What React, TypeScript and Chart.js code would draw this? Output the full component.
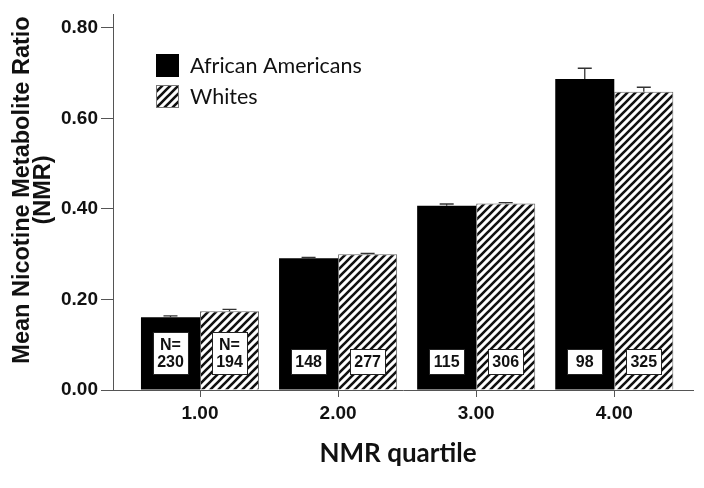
import React, { useEffect, useRef } from "react";
import { Chart, registerables } from "chart.js";

Chart.register(...registerables);

const quartiles = [1, 2, 3, 4];
const quartileLabels = ["1.00", "2.00", "3.00", "4.00"];
const africanAmericans = [0.161, 0.291, 0.407, 0.687];
const whites = [0.174, 0.3, 0.412, 0.659];
const errAfricanAmericans = [0.003, 0.002, 0.004, 0.024];
const errWhites = [0.004, 0.002, 0.002, 0.01];
const nAfricanAmericans = [230, 148, 115, 98];
const nWhites = [194, 277, 306, 325];
const yTicks = [0, 0.2, 0.4, 0.6, 0.8];
const seriesNames = ["African Americans", "Whites"];
const yTitle = ["Mean Nicotine Metabolite Ratio", "(NMR)"];
const xTitle = "NMR quartile";

function makeHatch(): CanvasPattern | string {
  const c = document.createElement("canvas");
  const s = 8;
  c.width = s;
  c.height = s;
  const g = c.getContext("2d");
  if (!g) return "#888";
  g.fillStyle = "#fff";
  g.fillRect(0, 0, s, s);
  g.strokeStyle = "#111";
  g.lineWidth = 2.6;
  g.beginPath();
  g.moveTo(-2, s + 2);
  g.lineTo(s + 2, -2);
  g.moveTo(-2, 2);
  g.lineTo(2, -2);
  g.moveTo(s - 2, s + 2);
  g.lineTo(s + 2, s - 2);
  g.stroke();
  const p = g.createPattern(c, "repeat");
  return p || "#888";
}

export default function App() {
  const ref = useRef<HTMLCanvasElement | null>(null);

  useEffect(() => {
    if (!ref.current) return;
    const hatch = makeHatch();
    const errs = [errAfricanAmericans, errWhites];
    const ns = [nAfricanAmericans, nWhites];

    const overlay = {
      id: "overlay",
      afterDatasetsDraw(chart: any) {
        const ctx = chart.ctx as CanvasRenderingContext2D;
        const ys = chart.scales.y;
        // error bars
        ctx.save();
        ctx.strokeStyle = "#333";
        ctx.lineWidth = 1.3;
        [0, 1].forEach((di) => {
          const meta = chart.getDatasetMeta(di);
          const vals = di === 0 ? africanAmericans : whites;
          meta.data.forEach((bar: any, i: number) => {
            const x = bar.x;
            const yTop = ys.getPixelForValue(vals[i] + errs[di][i]);
            const yBar = ys.getPixelForValue(vals[i]);
            ctx.beginPath();
            ctx.moveTo(x, yBar);
            ctx.lineTo(x, yTop);
            ctx.moveTo(x - 7, yTop);
            ctx.lineTo(x + 7, yTop);
            ctx.stroke();
          });
        });
        ctx.restore();

        // N labels
        ctx.save();
        ctx.font = "bold 16px 'Liberation Sans', Arial, sans-serif";
        ctx.textAlign = "center";
        ctx.textBaseline = "middle";
        const zero = ys.getPixelForValue(0);
        [0, 1].forEach((di) => {
          const meta = chart.getDatasetMeta(di);
          meta.data.forEach((bar: any, i: number) => {
            const lines = i === 0 ? ["N=", String(ns[di][i])] : [String(ns[di][i])];
            const h = 17 * lines.length + 8;
            const w = 35;
            const bottom = zero - 16;
            const top = bottom - h;
            ctx.fillStyle = "#fff";
            ctx.fillRect(bar.x - w / 2, top, w, h);
            ctx.strokeStyle = "#222";
            ctx.lineWidth = 1;
            ctx.strokeRect(Math.round(bar.x - w / 2) + 0.5, Math.round(top) + 0.5, w, h);
            ctx.fillStyle = "#111";
            lines.forEach((t, li) => {
              ctx.fillText(t, bar.x, top + 4 + 8.5 + li * 17 + 1);
            });
          });
        });
        ctx.restore();
      },
      afterDraw(chart: any) {
        const ctx = chart.ctx as CanvasRenderingContext2D;
        const ds = chart.data.datasets;
        // legend
        ctx.save();
        const boxes = [
          { y: 54, fill: ds[0].backgroundColor, border: "#000" },
          { y: 85, fill: ds[1].backgroundColor, border: "#777" },
        ];
        boxes.forEach((b, i) => {
          ctx.fillStyle = b.fill as any;
          ctx.fillRect(156, b.y, 23, 23);
          ctx.strokeStyle = b.border;
          ctx.lineWidth = 1;
          ctx.strokeRect(156.5, b.y + 0.5, 22, 22);
          ctx.fillStyle = "#111";
          ctx.font = "21.5px Lato, 'Open Sans', sans-serif";
          ctx.textAlign = "left";
          ctx.textBaseline = "alphabetic";
          ctx.fillText(seriesNames[i], 190, b.y + 19);
        });
        ctx.restore();

        // y title
        ctx.save();
        ctx.fillStyle = "#111";
        ctx.font = "bold 23.5px 'Liberation Sans', Arial, sans-serif";
        ctx.textAlign = "center";
        ctx.textBaseline = "middle";
        ctx.translate(0, 190);
        ctx.rotate(-Math.PI / 2);
        ctx.fillText(yTitle[0], 0, 23);
        ctx.fillText(yTitle[1], 0, 44);
        ctx.restore();

        // x title
        ctx.save();
        ctx.fillStyle = "#111";
        ctx.font = "bold 26px Lato, 'Open Sans', sans-serif";
        ctx.textAlign = "center";
        ctx.textBaseline = "alphabetic";
        ctx.fillText(xTitle, 398, 462);
        ctx.restore();
      },
    };

    const chart = new Chart(ref.current, {
      type: "bar",
      data: {
        datasets: [
          {
            label: seriesNames[0],
            data: quartiles.map((q, i) => ({ x: q, y: africanAmericans[i] })),
            backgroundColor: "#000",
            borderWidth: 0,
          },
          {
            label: seriesNames[1],
            data: quartiles.map((q, i) => ({ x: q, y: whites[i] })),
            backgroundColor: hatch as any,
            borderColor: "#666",
            borderWidth: 1,
          },
        ],
      },
      options: {
        responsive: false,
        animation: false,
        layout: { padding: { top: 7, right: 11, left: 0, bottom: 0 } },
        datasets: { bar: { categoryPercentage: 0.855, barPercentage: 1 } } as any,
        plugins: { legend: { display: false }, tooltip: { enabled: false } },
        scales: {
          x: {
            type: "linear",
            min: 0.37,
            max: 4.57,
            offset: false,
            afterBuildTicks: (s: any) => {
              s.ticks = quartiles.map((v) => ({ value: v }));
            },
            afterFit: (s: any) => {
              s.height = 98;
            },
            ticks: {
              callback: (v: any) => quartileLabels[quartiles.indexOf(Number(v))] ?? "",
              color: "#111",
              font: { family: "'Liberation Sans', Arial, sans-serif", size: 19, weight: "bold" },
              padding: 5,
              maxRotation: 0,
            },
            grid: { offset: false, drawOnChartArea: false, drawTicks: true, tickLength: 7, color: "#555" },
            border: { display: true, color: "#555", width: 1 },
          },
          y: {
            type: "linear",
            min: 0,
            max: 0.83,
            afterBuildTicks: (s: any) => {
              s.ticks = yTicks.map((v) => ({ value: v }));
            },
            afterFit: (s: any) => {
              s.width = 113;
            },
            ticks: {
              callback: (v: any) => Number(v).toFixed(2),
              color: "#111",
              font: { family: "'Liberation Sans', Arial, sans-serif", size: 19, weight: "bold" },
              padding: 3,
            },
            grid: { drawOnChartArea: false, drawTicks: true, tickLength: 12, color: "#555" },
            border: { display: true, color: "#555", width: 1 },
          },
        },
      },
      plugins: [overlay],
    });
    return () => chart.destroy();
  }, []);

  return (
    <div style={{ position: "absolute", left: 0, top: 0, width: 704, height: 488, background: "#fff" }}>
      <canvas ref={ref} width={704} height={488} />
    </div>
  );
}
